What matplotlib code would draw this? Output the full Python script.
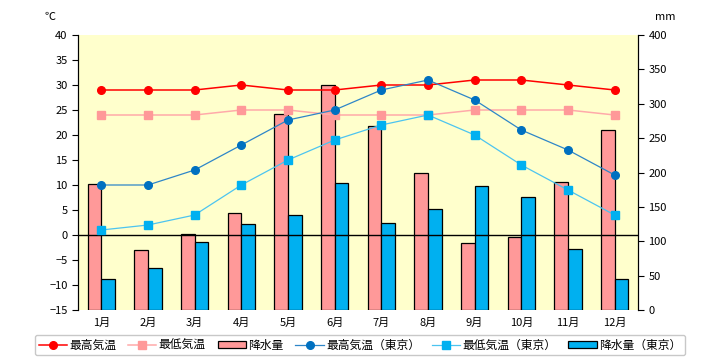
import matplotlib

matplotlib.use("Agg")
import matplotlib.pyplot as plt
import numpy as np

plt.rcParams["font.family"] = ["Noto Sans CJK JP", "DejaVu Sans"]

months = ["1月", "2月", "3月", "4月", "5月", "6月", "7月", "8月", "9月", "10月", "11月", "12月"]
max_temp = [29, 29, 29, 30, 29, 29, 30, 30, 31, 31, 30, 29]
min_temp = [24, 24, 24, 25, 25, 24, 24, 24, 25, 25, 25, 24]
rain = [184, 88, 110, 141, 285, 327, 267, 200, 97, 106, 186, 262]
max_temp_tokyo = [10, 10, 13, 18, 23, 25, 29, 31, 27, 21, 17, 12]
min_temp_tokyo = [1, 2, 4, 10, 15, 19, 22, 24, 20, 14, 9, 4]
rain_tokyo = [45.1, 60.4, 99.5, 125.0, 138.0, 185.0, 126.1, 147.5, 179.8, 164.1, 89.1, 45.7]

x = np.arange(len(months))
width = 0.29

fig = plt.figure(figsize=(7.2, 3.6), dpi=100)
# rain axis first so the temperature lines are drawn over the bars
ax_rain = fig.add_axes([78 / 720, 50 / 360, 560 / 720, 275 / 360])
ax_rain.set_facecolor("#FFFFCC")
ax_temp = ax_rain.twinx()

b1 = ax_rain.bar(x - width / 2, rain, width, color="#FF9999", edgecolor="black", linewidth=0.9, label="降水量")
b2 = ax_rain.bar(x + width / 2, rain_tokyo, width, color="#00B0F0", edgecolor="black", linewidth=0.9, label="降水量（東京）")
ax_rain.set_ylim(0, 400)
ax_rain.set_yticks(range(0, 401, 50))
ax_rain.yaxis.tick_right()
ax_rain.set_xlim(-0.5, 11.5)
ax_rain.set_xticks(x)
ax_rain.set_xticklabels(months)

ax_temp.axhline(0, color="black", linewidth=1, zorder=1)
l1, = ax_temp.plot(x, max_temp, color="#FF0000", marker="o", markersize=5.5, linewidth=1.1, label="最高気温")
l2, = ax_temp.plot(x, min_temp, color="#FFAAAA", marker="s", markersize=5.5, markerfacecolor="#FF9999",
                   markeredgecolor="#FF9999", linewidth=1.1, label="最低気温")
l3, = ax_temp.plot(x, max_temp_tokyo, color="#2E86C8", marker="o", markersize=5.5, markerfacecolor="#0070C0",
                   markeredgecolor="#0070C0", linewidth=0.9, label="最高気温（東京）")
l4, = ax_temp.plot(x, min_temp_tokyo, color="#4CC4F0", marker="s", markersize=5.5, markerfacecolor="#00B0F0",
                   markeredgecolor="#00B0F0", linewidth=0.9, label="最低気温（東京）")
ax_temp.set_ylim(-15, 40)
ax_temp.set_yticks(range(-15, 41, 5))
ax_temp.yaxis.tick_left()

for axis in (ax_rain, ax_temp):
    axis.spines["top"].set_visible(False)
    axis.spines["bottom"].set_visible(False)
    axis.tick_params(axis="y", labelsize=8, length=4, direction="out")
    axis.tick_params(axis="x", length=0, labelsize=8, pad=6)

fig.text(50 / 720, 1 - 17 / 360, "℃", fontsize=8, ha="center", va="center")
fig.text(665 / 720, 1 - 17 / 360, "mm", fontsize=8, ha="center", va="center")

fig.legend(
    handles=[l1, l2, b1, l3, l4, b2],
    loc="center",
    bbox_to_anchor=(0.5, 1 - 345 / 360),
    ncol=6,
    fontsize=8.5,
    frameon=True,
    fancybox=True,
    edgecolor="#BBBBBB",
    handlelength=2.4,
    handleheight=0.5,
    columnspacing=1.0,
    handletextpad=0.2,
    borderpad=0.3,
)

fig.savefig("out.png", dpi=100)
plt.close(fig)
